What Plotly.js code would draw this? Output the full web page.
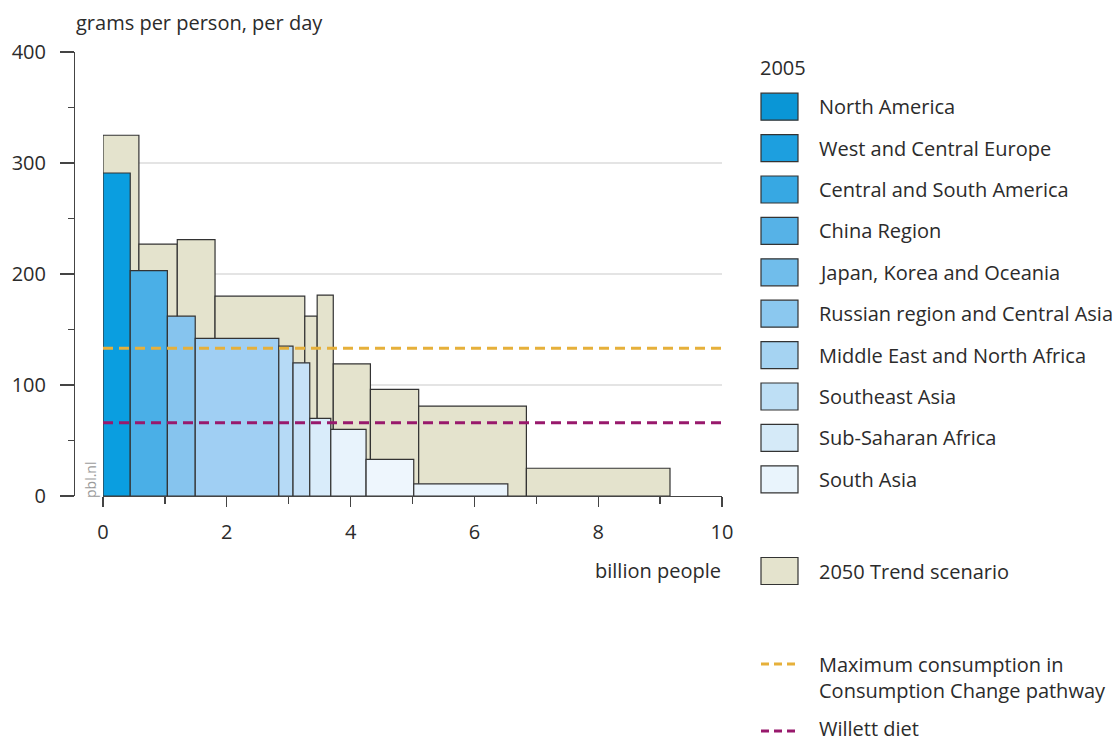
<!DOCTYPE html>
<html>
<head>
<meta charset="utf-8">
<script src="https://cdn.plot.ly/plotly-3.0.1.min.js"></script>
<style>html,body{margin:0;padding:0;background:#fff;}#chart{width:1119px;height:742px;}</style>
</head>
<body>
<div id="chart"></div>
<script>
// ---- data ----
const regions = ["North America","West and Central Europe","Central and South America","China Region","Japan, Korea and Oceania","Russian region and Central Asia","Middle East and North Africa","Southeast Asia","Sub-Saharan Africa","South Asia"];
const population2005 = [0.44,0.60,0.45,1.35,0.23,0.27,0.34,0.57,0.77,1.52];
const consumption2005 = [291,203,162,142,135,120,70,60,33,11];
const population2050 = [0.58,0.62,0.61,1.45,0.20,0.26,0.60,0.78,1.74,2.32];
const consumption2050 = [325,227,231,180,162,181,119,96,81,25];
const maxConsumptionLevel = 133;
const willettLevel = 66;
const xTicks = [0,2,4,6,8,10];
const yTicks = [0,100,200,300,400];

// ---- styles ----
const legendColors = ['#0a96d6','#1d9fdf','#37a8e3','#56b2e7','#70bdeb','#8bc8ef','#a5d3f2','#bedff5','#d5eaf8','#e9f4fc'];
const barColors = ['#0a9ee0','#4aafe7','#86c4ee','#a0cff3','#b6daf6','#c7e2f8','#d9ecfa','#e8f3fc','#eef6fd','#eaf4fc'];
const beige = '#e4e3cd';
const edge = '#333333';
const yellow = '#e6b03a';
const purple = '#98196c';
const textColor = '#2b2b2b';
const FONT = 'Open Sans, Noto Sans, sans-serif';

function mids(widths){ let c=0; return widths.map(w=>{const m=c+w/2; c+=w; return m;}); }

const traces = [];
traces.push({type:'bar', x:mids(population2050), y:consumption2050, width:population2050, base:0,
  marker:{color:beige, line:{color:edge, width:1.2}}, showlegend:false, hoverinfo:'skip'});
traces.push({type:'bar', x:mids(population2005), y:consumption2005, width:population2005, base:0,
  marker:{color:barColors, line:{color:edge, width:1.2}}, showlegend:false, hovertext:regions, hoverinfo:'text+y', textposition:'none'});
traces.push({type:'scatter', mode:'lines', x:[0,10], y:[maxConsumptionLevel,maxConsumptionLevel],
  line:{color:yellow, width:3, dash:'10px,6px'}, showlegend:false, hoverinfo:'skip'});
traces.push({type:'scatter', mode:'lines', x:[0,10], y:[willettLevel,willettLevel],
  line:{color:purple, width:3, dash:'10px,6px'}, showlegend:false, hoverinfo:'skip'});

// pixel -> paper helpers (plot area: x 74..722, y 52..496)
const L=74, R=722, T=52, B=496;
const px = v => (v-L)/(R-L);
const py = v => (B-v)/(B-T);

const shapes = [];
const annotations = [];
const fs = 20;

annotations.push({xref:'paper', yref:'paper', x:px(74), y:py(22), xanchor:'left', yanchor:'middle', showarrow:false,
  text:'grams per person, per day', font:{family:FONT, size:fs, color:textColor}});
annotations.push({xref:'paper', yref:'paper', x:px(723), y:py(570), xanchor:'right', yanchor:'middle', showarrow:false,
  text:'billion people', font:{family:FONT, size:fs, color:textColor}});
annotations.push({xref:'paper', yref:'paper', x:px(90), y:py(480), xanchor:'center', yanchor:'middle', showarrow:false,
  textangle:-90, text:'pbl.nl', font:{family:FONT, size:14, color:'#9a9a9a'}});

// legend
const swX0 = 761, swX1 = 798, swH = 27, textX = 817;
annotations.push({xref:'paper', yref:'paper', x:px(758), y:py(68), xanchor:'left', yanchor:'middle', showarrow:false,
  text:'2005', font:{family:FONT, size:fs, color:textColor}});
regions.forEach((r,i)=>{
  const cy = 106.7 + 41.4*i;
  shapes.push({type:'rect', xref:'paper', yref:'paper', x0:px(swX0), x1:px(swX1), y0:py(cy-swH/2), y1:py(cy+swH/2),
    fillcolor:legendColors[i], line:{color:edge, width:1.2}});
  annotations.push({xref:'paper', yref:'paper', x:px(textX), y:py(cy), xanchor:'left', yanchor:'middle', showarrow:false,
    text:r, font:{family:FONT, size:fs, color:textColor}});
});
shapes.push({type:'rect', xref:'paper', yref:'paper', x0:px(swX0), x1:px(swX1), y0:py(571-swH/2), y1:py(571+swH/2),
  fillcolor:beige, line:{color:edge, width:1.2}});
annotations.push({xref:'paper', yref:'paper', x:px(textX), y:py(571), xanchor:'left', yanchor:'middle', showarrow:false,
  text:'2050 Trend scenario', font:{family:FONT, size:fs, color:textColor}});
shapes.push({type:'line', xref:'paper', yref:'paper', x0:px(761), x1:px(799), y0:py(664), y1:py(664),
  line:{color:yellow, width:3, dash:'8px,5px'}});
annotations.push({xref:'paper', yref:'paper', x:px(textX), y:py(677), xanchor:'left', yanchor:'middle', showarrow:false, align:'left',
  text:'Maximum consumption in<br>Consumption Change pathway', font:{family:FONT, size:fs, color:textColor}});
shapes.push({type:'line', xref:'paper', yref:'paper', x0:px(761), x1:px(799), y0:py(731), y1:py(731),
  line:{color:purple, width:3, dash:'8px,5px'}});
annotations.push({xref:'paper', yref:'paper', x:px(textX), y:py(728), xanchor:'left', yanchor:'middle', showarrow:false,
  text:'Willett diet', font:{family:FONT, size:fs, color:textColor}});

const layout = {
  width:1119, height:742,
  margin:{l:L, r:1119-R, t:T, b:742-B, pad:0},
  paper_bgcolor:'#ffffff', plot_bgcolor:'#ffffff',
  barmode:'overlay', bargap:0,
  font:{family:FONT, size:fs, color:textColor},
  xaxis:{domain:[px(103),1], range:[0,10], tickvals:xTicks, ticktext:xTicks.map(String),
    showline:true, linecolor:'#444', linewidth:1.3, ticks:'outside', ticklen:10, tickwidth:1.3, tickcolor:'#444',
    minor:{dtick:1, ticks:'outside', ticklen:7, tickwidth:1.3, tickcolor:'#444', showgrid:false},
    showgrid:false, zeroline:false, ticklabelstandoff:8, tickfont:{family:FONT, size:fs, color:textColor}, fixedrange:true},
  yaxis:{anchor:'free', position:0, range:[0,400], tickvals:yTicks, ticktext:yTicks.map(String),
    showline:true, linecolor:'#444', linewidth:1.3, ticks:'outside', ticklen:14, tickwidth:1.3, tickcolor:'#444',
    minor:{dtick:50, ticks:'outside', ticklen:6, tickwidth:1.3, tickcolor:'#444', showgrid:false},
    showgrid:true, gridcolor:'#e4e4e4', gridwidth:1.3, zeroline:false, ticklabelstandoff:10,
    tickfont:{family:FONT, size:fs, color:textColor}, fixedrange:true},
  shapes:shapes, annotations:annotations, showlegend:false
};

Plotly.newPlot('chart', traces, layout, {displayModeBar:false, staticPlot:true});
</script>
</body>
</html>
